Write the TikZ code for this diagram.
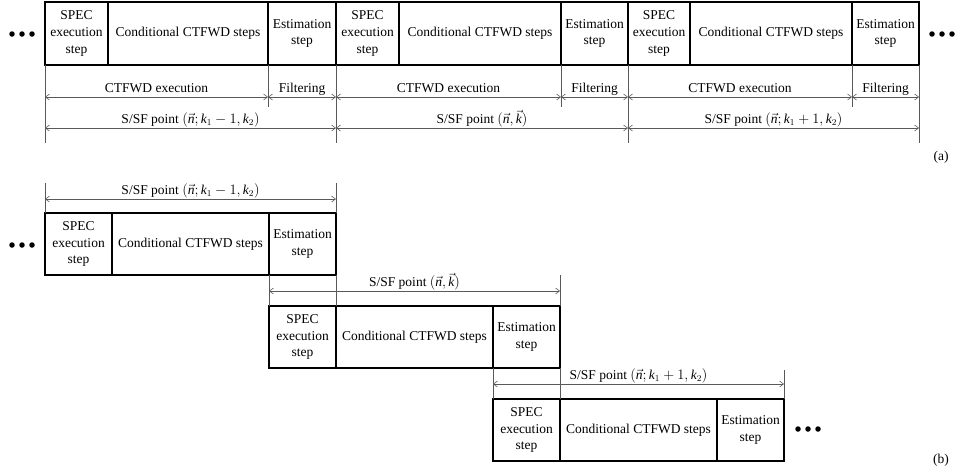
\documentclass[tikz,border=0pt]{standalone}
\usepackage{fontspec}
\setmainfont{Liberation Serif}
\usetikzlibrary{arrows.meta,calc}

% italic letters in the main serif face for the point labels
\newcommand{\mi}[1]{\mbox{\itshape #1}}

\tikzset{
  cell/.style={draw=black, line width=1.1pt, inner sep=0pt, outer sep=0pt,
    align=center, anchor=north west, font=\fontsize{13.5}{16.8}\selectfont},
  acell/.style={cell, minimum height=63pt},
  bcell/.style={cell, minimum height=62pt},
  dim/.style={draw=black!65, line width=0.6pt},
  span/.style={dim, {Straight Barb[length=4pt,width=6pt]}-{Straight Barb[length=4pt,width=6pt]}},
  lbl/.style={font=\fontsize{13.5}{16}\selectfont, inner sep=0pt, text depth=4.5pt, above},
  dot/.style={circle, fill=black, minimum size=5.5pt, inner sep=0pt},
  tag/.style={font=\fontsize{13.5}{16}\selectfont, inner sep=0pt},
}

\begin{document}
\begin{tikzpicture}[x=1pt, y=-1pt]
\useasboundingbox (0,0) rectangle (961,474);

% ---------------- (a) one row of three S/SF points ----------------
\coordinate (rA) at (0,97);   % CTFWD execution / Filtering
\coordinate (rB) at (0,128);  % S/SF point
\coordinate (rC) at (0,143);  % long extension lines
\coordinate (rD) at (0,107);  % short extension lines

\node[acell, minimum width=63pt]  (a1s) at (45,2) {SPEC\\execution\\step};
\node[acell, minimum width=160pt] (a1c) at (a1s.north east) {Conditional CTFWD steps};
\node[acell, minimum width=68pt]  (a1e) at (a1c.north east) {Estimation\\step};
\node[acell, minimum width=63pt]  (a2s) at (a1e.north east) {SPEC\\execution\\step};
\node[acell, minimum width=162pt] (a2c) at (a2s.north east) {Conditional CTFWD steps};
\node[acell, minimum width=67pt]  (a2e) at (a2c.north east) {Estimation\\step};
\node[acell, minimum width=62pt]  (a3s) at (a2e.north east) {SPEC\\execution\\step};
\node[acell, minimum width=162pt] (a3c) at (a3s.north east) {Conditional CTFWD steps};
\node[acell, minimum width=67pt]  (a3e) at (a3c.north east) {Estimation\\step};

\foreach \i/\pt in {1/{$(\vec{\mi{n}};\mi{k}_1-1,\mi{k}_2)$}, 2/{$(\vec{\mi{n}},\vec{\mi{k}})$}, 3/{$(\vec{\mi{n}};\mi{k}_1+1,\mi{k}_2)$}}{
  \draw[dim] (a\i s.south west) -- (a\i s.south west |- rC);
  \draw[dim] (a\i e.south west) -- (a\i e.south west |- rD);
  \draw[dim] (a\i e.south east) -- (a\i e.south east |- rC);
  \draw[span] (a\i s.south west |- rA) -- node[lbl] {CTFWD execution} (a\i e.south west |- rA);
  \draw[span] (a\i e.south west |- rA) -- node[lbl] {Filtering} (a\i e.south east |- rA);
  \draw[span] (a\i s.south west |- rB) -- node[lbl] {S/SF point \pt} (a\i e.south east |- rB);
}

\node[dot] (al1) at (12,34) {};
\node[dot] (al2) at (22,34) {};
\node[dot] (al3) at (32,34) {};
\node[dot] (ar1) at (932,34) {};
\node[dot] (ar2) at (942,34) {};
\node[dot] (ar3) at (952,34) {};
\node[tag] (taga) at (941,157) {(a)};

% ---------------- (b) staggered S/SF points ----------------
\coordinate (bt1) at (0,183);
\coordinate (ba1) at (0,199);
\coordinate (ba2) at (0,291);
\coordinate (ba3) at (0,384);
\coordinate (bt3) at (0,370);

\node[bcell, minimum width=67pt]  (b1s) at (45,213) {SPEC\\execution\\step};
\node[bcell, minimum width=157pt] (b1c) at (b1s.north east) {Conditional CTFWD steps};
\node[bcell, minimum width=67pt]  (b1e) at (b1c.north east) {Estimation\\step};

\node[bcell, minimum width=67pt]  (b2s) at (269,306) {SPEC\\execution\\step};
\node[bcell, minimum width=157pt] (b2c) at (b2s.north east) {Conditional CTFWD steps};
\node[bcell, minimum width=67pt]  (b2e) at (b2c.north east) {Estimation\\step};

\node[bcell, minimum width=67pt]  (b3s) at (493,399) {SPEC\\execution\\step};
\node[bcell, minimum width=157pt] (b3c) at (b3s.north east) {Conditional CTFWD steps};
\node[bcell, minimum width=67pt]  (b3e) at (b3c.north east) {Estimation\\step};

% extension lines
\draw[dim] (b1s.north west) -- (b1s.north west |- bt1);
\draw[dim] (b1e.north east |- bt1) -- (b1e.north east);
\draw[dim] (b1e.south east) -- (b2s.north east);
\draw[dim] (b1e.south west) -- (b2s.north west);
\draw[dim] (b2e.north east |- b1e.south) -- (b2e.north east);
\draw[dim] (b2e.south east) -- (b3s.north east);
\draw[dim] (b2e.south west) -- (b3s.north west);
\draw[dim] (b3e.north east |- bt3) -- (b3e.north east);

% S/SF spans
\draw[span] (b1s.north west |- ba1) -- node[lbl] {S/SF point $(\vec{\mi{n}};\mi{k}_1-1,\mi{k}_2)$} (b1e.north east |- ba1);
\draw[span] (b2s.north west |- ba2) -- node[lbl] {S/SF point $(\vec{\mi{n}},\vec{\mi{k}})$} (b2e.north east |- ba2);
\draw[span] (b3s.north west |- ba3) -- node[lbl] {S/SF point $(\vec{\mi{n}};\mi{k}_1+1,\mi{k}_2)$} (b3e.north east |- ba3);

\node[dot] (bl1) at (12,245) {};
\node[dot] (bl2) at (22,245) {};
\node[dot] (bl3) at (32,245) {};
\node[dot] (br1) at (798,429) {};
\node[dot] (br2) at (808,429) {};
\node[dot] (br3) at (818,429) {};
\node[tag] (tagb) at (941,460) {(b)};
\end{tikzpicture}
\end{document}
